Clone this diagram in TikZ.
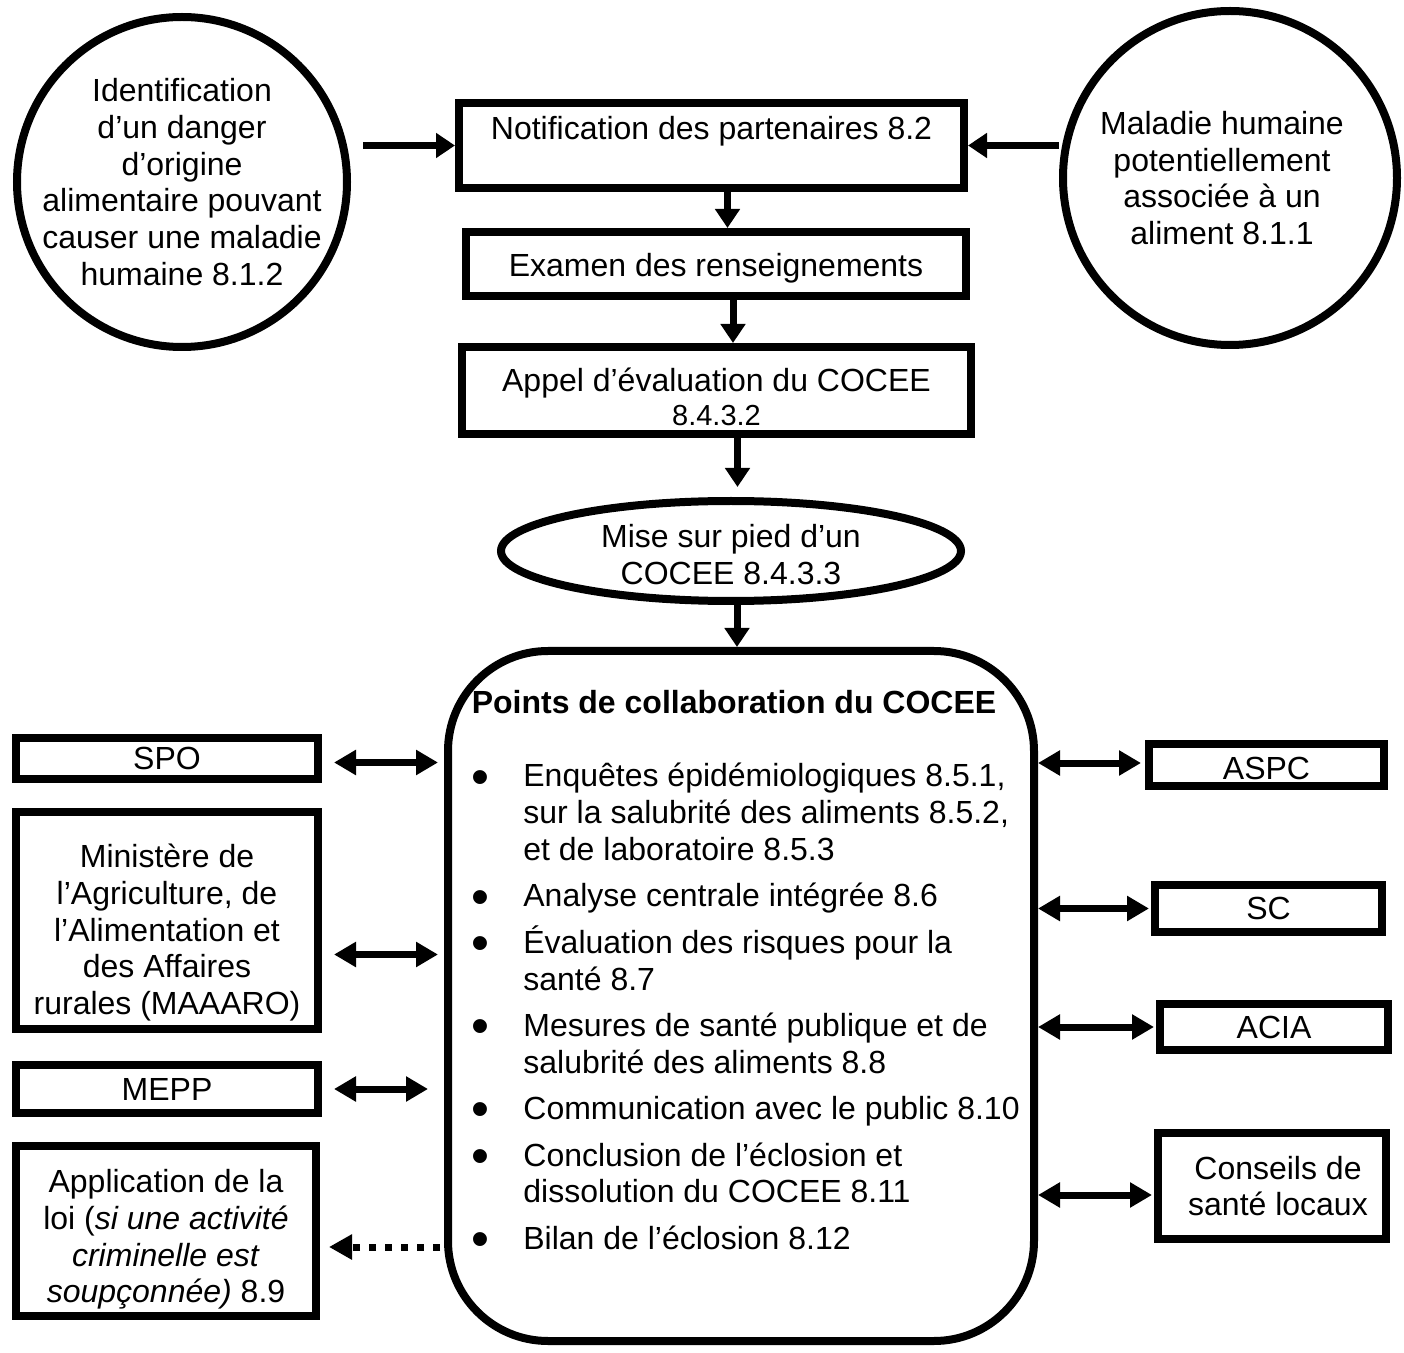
\documentclass[tikz,border=0pt]{standalone}
\usepackage{fontspec}
\setmainfont{Liberation Sans}
\usepackage{enumitem}
\usetikzlibrary{arrows.meta,shapes.geometric}

\begin{document}
\begin{tikzpicture}[x=0.5pt,y=-0.5pt,
    font=\fontsize{16pt}{18.4pt}\selectfont,
    box/.style={draw,line width=4pt,inner sep=0pt,align=center},
    roundnode/.style={draw,circle,line width=4pt,inner sep=-15pt,align=center},
    flow/.style={line width=3.5pt,-{Triangle[length=9.5pt,width=12pt]}},
    link/.style={line width=3.5pt,{Triangle[length=11pt,width=12pt]}-{Triangle[length=11pt,width=12pt]}},
    hint/.style={line width=3.5pt,dash pattern=on 3.5pt off 4.5pt,-{Triangle[length=11.5pt,width=12pt]}}]
  \useasboundingbox (0,0) rectangle (1404,1353);

  \node[roundnode,minimum size=165pt] (danger) at (182,182)
    {Identification\\d’un danger\\d’origine\\alimentaire pouvant\\causer une maladie\\humaine 8.1.2};
  \node[roundnode,minimum size=167pt] (maladie) at (1230,178)
    {Maladie humaine\hspace*{8pt}\mbox{}\\potentiellement\hspace*{8pt}\mbox{}\\associée à un\hspace*{8pt}\mbox{}\\aliment 8.1.1\hspace*{8pt}\mbox{}};
  \node[box,minimum width=252.5pt,minimum height=42.5pt,text depth=18pt] (notif) at (711.5,145.5)
    {Notification des partenaires 8.2};
  \node[box,minimum width=250pt,minimum height=32pt] (exam) at (716,264)
    {\rule{0pt}{16pt}Examen des renseignements};
  \node[box,minimum width=254.5pt,minimum height=43.5pt] (appel) at (716.5,390.5)
    {\rule{0pt}{18pt}Appel d’évaluation du COCEE\\[-1.5pt]{\fontsize{14.5pt}{16pt}\selectfont 8.4.3.2}};
  \node[box,ellipse,minimum width=230pt,minimum height=50pt] (cocee) at (731,551)
    {\rule{0pt}{15pt}Mise sur pied d’un\\COCEE 8.4.3.3};
  \node[box,rounded corners=50pt,minimum width=293pt,minimum height=345pt] (pts) at (741,996) {};
  \node[anchor=base,font=\fontsize{16pt}{18.4pt}\selectfont\bfseries] (ptstitle) at (734,713)
    {Points de collaboration du COCEE};
  \node[anchor=north west,inner sep=0pt] (ptslist) at (460,763) {%
    \begin{minipage}{300pt}
    \begin{itemize}[label={\raisebox{-0.22em}{\scalebox{1.6}{\textbullet}}},leftmargin=31.5pt,labelsep=17pt,
        itemsep=4.8pt,parsep=0pt,topsep=0pt,partopsep=0pt]
      \item Enquêtes épidémiologiques 8.5.1,\\sur la salubrité des aliments 8.5.2,\\et de laboratoire 8.5.3
      \item Analyse centrale intégrée 8.6
      \item Évaluation des risques pour la\\santé 8.7
      \item Mesures de santé publique et de\\salubrité des aliments 8.8
      \item Communication avec le public 8.10
      \item Conclusion de l’éclosion et\\dissolution du COCEE 8.11
      \item Bilan de l’éclosion 8.12
    \end{itemize}
    \end{minipage}};

  \node[box,minimum width=151pt,minimum height=20.5pt] (spo) at (167,758.5) {SPO};
  \node[box,minimum width=151pt,minimum height=108.5pt] (maaaro) at (167,920.5)
    {\rule{0pt}{24pt}Ministère de\\l’Agriculture, de\\l’Alimentation et\\des Affaires\\rurales (MAAARO)};
  \node[box,minimum width=151pt,minimum height=24pt] (mepp) at (167,1089) {MEPP};
  \node[box,minimum width=150pt,minimum height=85pt] (loi) at (166,1231)
    {\rule{0pt}{20pt}Application de la\\loi (\textit{si une activité}\\\textit{criminelle est}\\\textit{soupçonnée)} 8.9};
  \node[box,minimum width=117.5pt,minimum height=21pt] (aspc) at (1266.5,765) {\rule{0pt}{15pt}ASPC};
  \node[box,minimum width=113.5pt,minimum height=23.5pt] (sc) at (1268.5,908.5) {SC};
  \node[box,minimum width=114pt,minimum height=23pt] (acia) at (1274,1027) {ACIA};
  \node[box,minimum width=114pt,minimum height=53pt] (clsl) at (1272,1186) {\hspace*{6pt}Conseils de\\\hspace*{6pt}santé locaux};

  \draw[flow,shorten <=6pt] (danger.east |- notif.west) -- (notif.west);
  \draw[flow] (maladie.west |- notif.east) -- (notif.east);
  \draw[flow] ([xshift=8pt]notif.south) -- ([xshift=8pt]notif.south |- exam.north);
  \draw[flow] ([xshift=8.5pt]exam.south) -- ([xshift=8.5pt]exam.south |- appel.north);
  \draw[flow,shorten >=5pt] ([xshift=10.5pt]appel.south) -- ([xshift=10.5pt]appel.south |- cocee.north);
  \draw[flow] ([xshift=3pt]cocee.south) -- ([xshift=3pt]cocee.south |- pts.north);

  \draw[link,shorten <=6pt,shorten >=3pt] ([yshift=-2pt]spo.east) -- ([yshift=-2pt]spo.east -| pts.west);
  \draw[link,shorten <=6pt,shorten >=3pt] ([yshift=-17pt]maaaro.east) -- ([yshift=-17pt]maaaro.east -| pts.west);
  \draw[link,shorten <=6pt,shorten >=8pt] (mepp.east) -- (mepp.east -| pts.west);
  \draw[hint,shorten <=2pt,shorten >=4.5pt] ([yshift=-8pt]loi.east -| pts.west) -- ([yshift=-8pt]loi.east);
  \draw[link,shorten >=2pt] ([yshift=1pt]aspc.west -| pts.east) -- ([yshift=1pt]aspc.west);
  \draw[link,shorten >=1pt] (sc.west -| pts.east) -- (sc.west);
  \draw[link,shorten >=1pt] (acia.west -| pts.east) -- (acia.west);
  \draw[link,shorten >=1pt] ([yshift=-4.5pt]clsl.west -| pts.east) -- ([yshift=-4.5pt]clsl.west);
\end{tikzpicture}
\end{document}
